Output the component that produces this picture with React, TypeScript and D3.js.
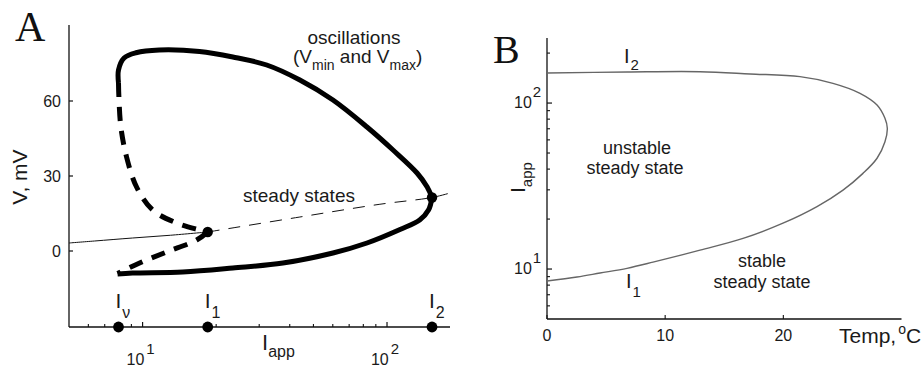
import * as d3 from "d3";

// ── Panel A data (I_app, V in mV) ─────────────────────────────
const oscUpper: [number, number][] = [
  [7.97, 67.2], [7.97, 72.4], [8.4, 77.2], [9.4, 79.3], [11.7, 80.4], [17.1, 79.8],
  [23.4, 77.6], [32.2, 74.4], [44.0, 68.4], [60.1, 60.4], [82.8, 49.6], [105.8, 40.4],
  [132.7, 31.2], [146, 25.6], [152.8, 21.4],
];
const oscLower: [number, number][] = [
  [152.8, 21.4], [148, 16.5], [136, 12.4], [113, 8.6], [82.8, 3.2], [60.1, -0.8],
  [37.5, -4.8], [23.4, -6.8], [14.6, -8.4], [9.1, -8.8], [7.9, -9.2],
];
const unstableUpper: [number, number][] = [
  [7.97, 67.2], [8.0, 61.6], [8.15, 49.6], [8.6, 37.6], [9.45, 25.6], [10.99, 16.4],
  [13.78, 11.2], [17.13, 8.4], [18.47, 7.6],
];
const unstableLower: [number, number][] = [
  [18.47, 7.6], [16.64, 4.4], [12.54, -0.4], [9.72, -4.8], [7.9, -9.0],
];
const steadyStable: [number, number][] = [
  [5, 3.2], [6.36, 4.0], [9.1, 5.2], [13, 6.3], [18.47, 7.6],
];
const steadyUnstable: [number, number][] = [
  [18.47, 7.6], [44, 13.6], [93.5, 18.7], [152.8, 21.4], [181, 23.2],
];
const bifPoints = [
  { name: "I1", I: 18.47, V: 7.6 },
  { name: "I2", I: 152.8, V: 21.4 },
];
const axisMarks = [
  { sub: "ν", I: 7.97 },
  { sub: "1", I: 18.47 },
  { sub: "2", I: 152.8 },
];
const aYTicks = [0, 30, 60];
const aXMajor = [10, 100];
const aXMinor = [6, 7, 8, 9, 20, 30, 40, 50, 60, 70, 80, 90];

// ── Panel B data (Temp, I_app) ────────────────────────────────
const bBoundary: [number, number][] = [
  [0, 151.8], [6.8, 153.9], [12.95, 154.5], [17.18, 149.7], [21.41, 144.2], [24.2, 131.5],
  [26.49, 114.5], [27.93, 97.3], [28.6, 80.9], [28.8, 70.5], [28.6, 58.5], [27.93, 46.5],
  [26.74, 37.7], [25.05, 29.9], [22.85, 23.8], [19.97, 18.9], [16.59, 15.3], [12.95, 13.0],
  [8.97, 11.0], [6.77, 10.1], [4.49, 9.46], [2.54, 8.95], [0, 8.47],
];
const bXTicks = [0, 10, 20];
const bYMajor = [10, 100];
const bYMinor = [6, 7, 8, 9, 20, 30, 40, 50, 60, 70, 80, 90, 200];

const SANS = "'Liberation Sans', Arial, sans-serif";
const SERIF = "'Liberation Serif', 'Times New Roman', serif";
const TXT = "#1a1a1a";

export default function App() {
  // scales A
  const ax = d3.scaleLog().domain([5, 181]).range([69, 450]);
  const ay = d3.scaleLinear().domain([-30.4, 90.4]).range([327, 25]);
  // scales B
  const bx = d3.scaleLinear().domain([0, 30]).range([547, 901.5]);
  const by = d3.scaleLog().domain([5, 250]).range([319, 37]);

  const lineA = d3.line<[number, number]>()
    .x(d => ax(d[0])).y(d => ay(d[1]))
    .curve(d3.curveCatmullRom.alpha(0.5));
  const lineB = d3.line<[number, number]>()
    .x(d => bx(d[0])).y(d => by(d[1]))
    .curve(d3.curveCatmullRom.alpha(0.5));

  const aBase = ay.range()[0];
  const aLeft = ax.range()[0];
  const bBase = by.range()[0];
  const bLeft = bx.range()[0];

  return (
    <svg width={921} height={368} style={{ position: "absolute", left: 0, top: 0, background: "#fff" }}
      fontFamily={SANS}>
      {/* ── Panel A ───────────────────────────── */}
      <text x={15} y={41} fontFamily={SERIF} fontSize={42} fill="#111">A</text>

      {/* axes */}
      <line x1={aLeft} x2={aLeft} y1={ay.range()[1]} y2={aBase} stroke="#111" strokeWidth={1.3} />
      <line x1={aLeft} x2={ax.range()[1]} y1={aBase} y2={aBase} stroke="#111" strokeWidth={1.3} />
      {aYTicks.map(t => (
        <g key={t}>
          <line x1={aLeft} x2={aLeft + 4} y1={ay(t)} y2={ay(t)} stroke="#111" strokeWidth={1.2} />
          <text x={61} y={ay(t) + 6} textAnchor="end" fontSize={16} fill={TXT}>{t}</text>
        </g>
      ))}
      {aXMinor.map(t => (
        <line key={t} x1={ax(t)} x2={ax(t)} y1={aBase} y2={aBase - 3} stroke="#111" strokeWidth={1.1} />
      ))}
      {aXMajor.map((t, i) => (
        <g key={t}>
          <line x1={ax(t)} x2={ax(t)} y1={aBase} y2={aBase - 5} stroke="#111" strokeWidth={1.2} />
          <text x={ax(t) - 2} y={365} textAnchor="middle" fontSize={16} fill={TXT}>
            10<tspan dx={2} dy={-11} fontSize={15}>{i + 1}</tspan>
          </text>
        </g>
      ))}
      <text x={262} y={350} fontSize={22} fill={TXT}>
        I<tspan dy={7} fontSize={16}>app</tspan>
      </text>
      <text transform="translate(27,177) rotate(-90)" textAnchor="middle" fontSize={21} fill={TXT}>V, mV</text>

      {/* steady states */}
      <path d={lineA(steadyStable) ?? ""} fill="none" stroke="#111" strokeWidth={1} />
      <path d={lineA(steadyUnstable) ?? ""} fill="none" stroke="#111" strokeWidth={1}
        strokeDasharray="12,9" />

      {/* oscillation branches */}
      <path d={lineA(oscUpper) ?? ""} fill="none" stroke="#000" strokeWidth={5} strokeLinejoin="round" />
      <path d={lineA(oscLower) ?? ""} fill="none" stroke="#000" strokeWidth={5} strokeLinejoin="round" />
      <path d={lineA(unstableUpper) ?? ""} fill="none" stroke="#000" strokeWidth={5}
        strokeDasharray="14,10" />
      <path d={lineA(unstableLower) ?? ""} fill="none" stroke="#000" strokeWidth={5}
        strokeDasharray="14,10" />

      {bifPoints.map(p => (
        <circle key={p.name} cx={ax(p.I)} cy={ay(p.V)} r={5.2} fill="#000" />
      ))}
      {axisMarks.map(m => (
        <g key={m.sub}>
          <circle cx={ax(m.I)} cy={aBase} r={5.4} fill="#000" />
          <text x={ax(m.I) - 3} y={308} fontSize={21} fill={TXT}>
            I<tspan dx={1} dy={10} fontSize={16}>{m.sub}</tspan>
          </text>
        </g>
      ))}

      <text x={243} y={202} fontSize={19} fill={TXT}>steady states</text>
      <text x={354} y={44} textAnchor="middle" fontSize={19} fill={TXT}>oscillations</text>
      <text x={293} y={63} fontSize={19} fill={TXT}>
        (V<tspan dy={7} fontSize={14}>min</tspan>
        <tspan dy={-7}> and V</tspan>
        <tspan dy={7} fontSize={14}>max</tspan>
        <tspan dy={-7}>)</tspan>
      </text>

      {/* ── Panel B ───────────────────────────── */}
      <text x={493} y={63} fontFamily={SERIF} fontSize={40} fill="#111">B</text>

      <line x1={bLeft} x2={bLeft} y1={38} y2={bBase} stroke="#111" strokeWidth={1.3} />
      <line x1={bLeft} x2={bx.range()[1]} y1={bBase} y2={bBase} stroke="#111" strokeWidth={1.3} />
      {bXTicks.map(t => (
        <g key={t}>
          <line x1={bx(t)} x2={bx(t)} y1={bBase} y2={bBase - 4} stroke="#111" strokeWidth={1.1} />
          <text x={bx(t)} y={341} textAnchor="middle" fontSize={16} fill={TXT}>{t}</text>
        </g>
      ))}
      {bYMinor.map(t => (
        <line key={t} x1={bLeft} x2={bLeft + 3} y1={by(t)} y2={by(t)} stroke="#111" strokeWidth={1.1} />
      ))}
      {bYMajor.map((t, i) => (
        <g key={t}>
          <line x1={bLeft} x2={bLeft + 5} y1={by(t)} y2={by(t)} stroke="#111" strokeWidth={1.2} />
          <text x={514} y={by(t) + 5} fontSize={16} fill={TXT}>
            10<tspan dx={1} dy={-11} fontSize={15}>{i + 1}</tspan>
          </text>
        </g>
      ))}
      <text x={839} y={343} fontSize={21} fill={TXT}>
        Temp,<tspan dx={2} dy={-9} fontSize={14}>o</tspan><tspan dy={9}>C</tspan>
      </text>
      <text transform="translate(525,193) rotate(-90)" fontSize={21} fill={TXT}>
        I<tspan dy={7} fontSize={15}>app</tspan>
      </text>

      <path d={lineB(bBoundary) ?? ""} fill="none" stroke="#666" strokeWidth={1.4} />

      <text x={624} y={63} fontSize={20} fill={TXT}>
        I<tspan dx={1} dy={7} fontSize={15}>2</tspan>
      </text>
      <text x={626} y={288} fontSize={20} fill={TXT}>
        I<tspan dx={1} dy={9} fontSize={15}>1</tspan>
      </text>
      <text x={637} y={154} textAnchor="middle" fontSize={18} fill={TXT}>unstable</text>
      <text x={635} y={174} textAnchor="middle" fontSize={18} fill={TXT}>steady state</text>
      <text x={762} y={267} textAnchor="middle" fontSize={18} fill={TXT}>stable</text>
      <text x={762} y={288} textAnchor="middle" fontSize={18} fill={TXT}>steady state</text>
    </svg>
  );
}
